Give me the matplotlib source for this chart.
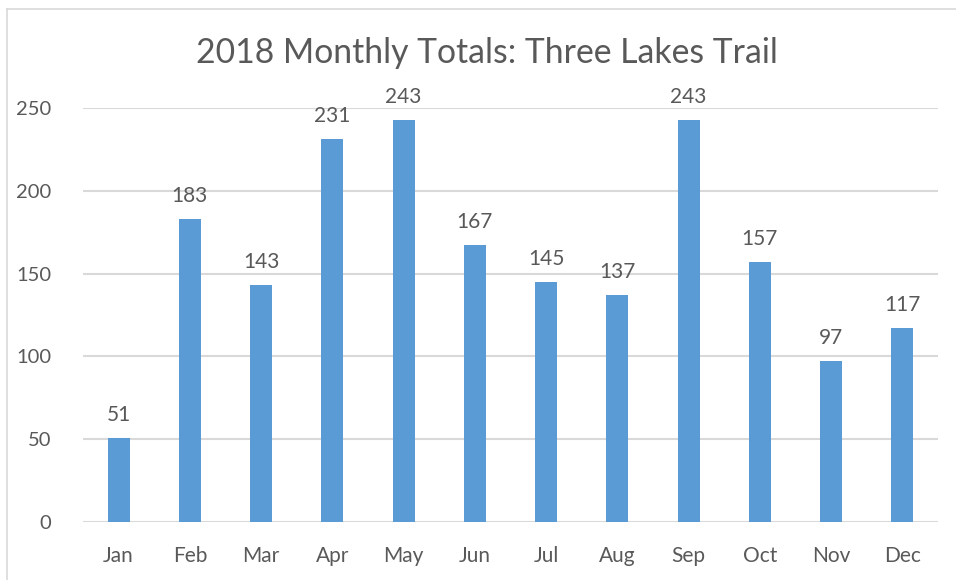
import matplotlib
matplotlib.use("Agg")
import matplotlib.pyplot as plt
from matplotlib.lines import Line2D
from matplotlib.transforms import offset_copy

months = ["Jan", "Feb", "Mar", "Apr", "May", "Jun", "Jul", "Aug", "Sep", "Oct", "Nov", "Dec"]
totals = [51, 183, 143, 231, 243, 167, 145, 137, 243, 157, 97, 117]
yticks = [0, 50, 100, 150, 200, 250]
title = "2018 Monthly Totals: Three Lakes Trail"

plt.rcParams['font.family'] = ['Lato', 'DejaVu Sans']
W, H = 956, 580
fig = plt.figure(figsize=(W / 100, H / 100), dpi=100)
ax = fig.add_axes([83 / W, 1 - 522 / H, (938 - 83) / W, (522 - 108) / H])

txt = "#595959"
grid = "#D9D9D9"
x = list(range(len(months)))
ax.bar(x, totals, width=0.31, color="#5B9BD5", zorder=3)
lbl_tr = offset_copy(ax.transData, fig=fig, y=13, units="dots")
for xi, v in zip(x, totals):
    ax.text(xi, v, str(v), ha="center", va="bottom", fontsize=15, color=txt,
            clip_on=False, transform=lbl_tr)

ax.set_xlim(-0.5, len(months) - 0.5)
ax.set_ylim(0, 250)
ax.set_yticks(yticks)
ax.set_yticklabels([str(t) for t in yticks])
ax.set_xticks(x)
ax.set_xticklabels(months)
ax.tick_params(axis="both", length=0, colors=txt)
ax.tick_params(axis="x", pad=17, labelsize=15)
ax.tick_params(axis="y", pad=23, labelsize=14.5)
ax.yaxis.grid(True, color=grid, linewidth=1.5, zorder=0)
ax.set_axisbelow(True)
for s in ax.spines.values():
    s.set_visible(False)

fig.text(487 / W, 1 - 53 / H, title, ha="center", va="center", fontsize=24.3, color=txt)

fig.add_artist(Line2D([7 / W, 1], [1 - 9 / H, 1 - 9 / H], color=grid, linewidth=1.2, transform=fig.transFigure))
fig.add_artist(Line2D([7 / W, 7 / W], [0, 1 - 9 / H], color=grid, linewidth=1.2, transform=fig.transFigure))

fig.savefig("out.png", dpi=100, facecolor="white")
